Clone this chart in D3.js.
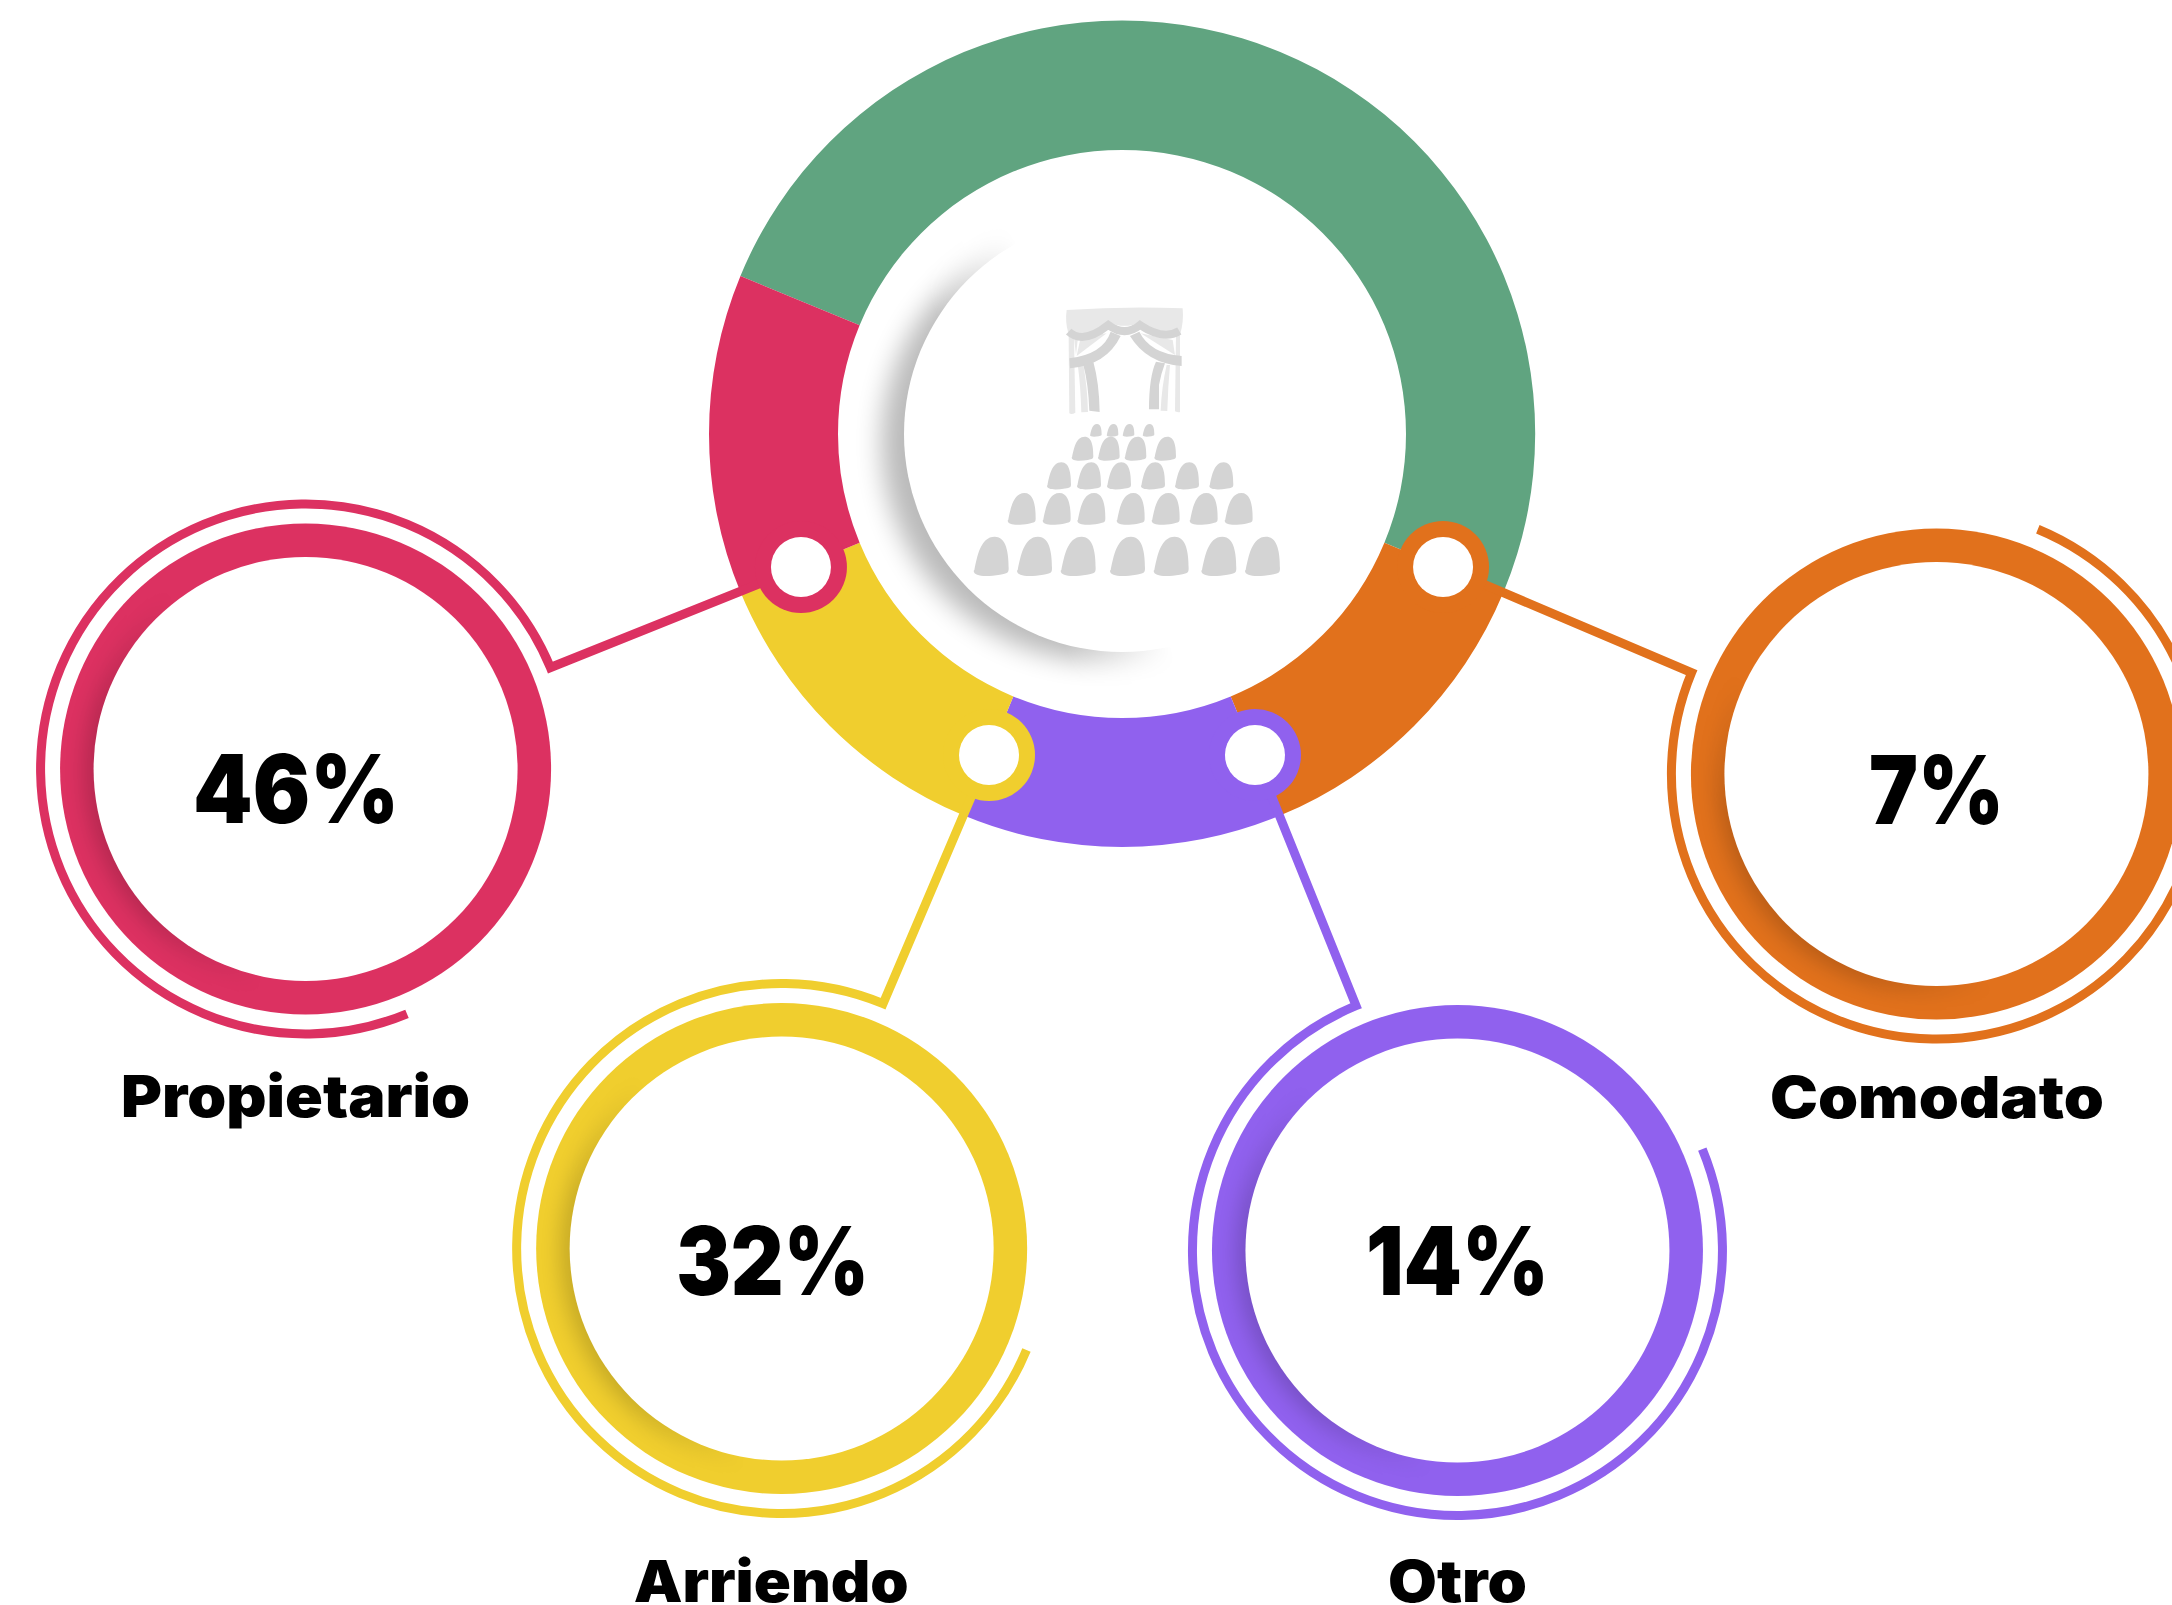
<!DOCTYPE html>
<html><head><meta charset="utf-8">
<style>html,body{margin:0;background:#fff;overflow:hidden}svg{display:block}</style>
<script src="https://cdn.jsdelivr.net/npm/d3@7"></script></head><body>
<script>
// ---- data ----
const categories = ["Propietario", "Arriendo", "Otro", "Comodato"];
const percents = [46, 32, 14, 7];
const ringColors = ["#DC3161", "#F0CE2E", "#9061EE", "#E1711C"];
const wheelSegments = [180, 45, 45, 45, 45];
const wheelColors = ["#60A480", "#E1711C", "#9061EE", "#F0CE2E", "#DC3161"];
const ringAngles = [247.5, 202.5, 157.5, 112.5];
const ringNudges = [[-1, -2.8], [-2.6, -0.9], [-2.3, 1.1], [-1, 2.3]];
const shadeAngles = [257, 255, 252, 231];
const valueOffsets = [[-9.5, 54.5], [-9, 46], [0, 44], [0, 49.6]];
const labelOffsets = [[-10, 348.5], [-10.5, 353], [0, 351], [0.5, 344]];
const valueWidths = [206, 193, 183, 135];
const labelWidths = [349, 275, 139, 334];

const W = 2172, H = 1605, cx = 1122, cy = 434;
const rad = d => d * Math.PI / 180;
const svg = d3.select("body").append("svg").attr("width", W).attr("height", H);
const defs = svg.append("defs");
const blur = (id, s) => defs.append("filter").attr("id", id)
  .attr("x", "-30%").attr("y", "-30%").attr("width", "160%").attr("height", "160%")
  .append("feGaussianBlur").attr("stdDeviation", s);
blur("soft", 13); blur("ringSoft", 10);

// soft crescent shadow: a blurred disc, faded out away from the direction it falls in
function shade(parent, id, x, y, r, deg, dist, sd, op, p0, p1, filter) {
  const [ux, uy] = d3.pointRadial(rad(deg), 1);
  const g = defs.append("linearGradient").attr("id", id + "g").attr("gradientUnits", "userSpaceOnUse")
    .attr("x1", x + ux * p0).attr("y1", y + uy * p0).attr("x2", x + ux * p1).attr("y2", y + uy * p1);
  g.append("stop").attr("offset", 0).attr("stop-color", "#000");
  g.append("stop").attr("offset", 1).attr("stop-color", "#fff");
  defs.append("mask").attr("id", id).attr("maskUnits", "userSpaceOnUse")
    .attr("x", 0).attr("y", 0).attr("width", W).attr("height", H)
    .append("rect").attr("width", W).attr("height", H).attr("fill", `url(#${id}g)`);
  parent.append("g").attr("mask", `url(#${id})`).append("circle")
    .attr("cx", x + ux * dist).attr("cy", y + uy * dist).attr("r", r)
    .attr("fill", "#000").attr("opacity", op).attr("filter", `url(#${filter})`);
}

// ---- central wheel ----
const wheel = svg.append("g").attr("transform", `translate(${cx},${cy})`);
const pie = d3.pie().sort(null).value(d => d).startAngle(rad(-67.5)).endAngle(rad(292.5));
const arc = d3.arc().innerRadius(284).outerRadius(413);
wheel.selectAll("path.seg").data(pie(wheelSegments)).join("path").attr("class", "seg")
  .attr("d", arc).attr("fill", (d, i) => wheelColors[i]);
shade(svg, "wheelShade", cx, cy, 218, 249, 24, 13, .27, 30, 130, "soft");
svg.append("circle").attr("cx", cx).attr("cy", cy).attr("r", 218).attr("fill", "#fff");

// ---- leaders, thin arcs, knobs, rings ----
ringAngles.forEach((deg, i) => {
  const color = ringColors[i], a = rad(deg);
  const [kx, ky] = d3.pointRadial(a, 347.5);
  const [rx, ry] = d3.pointRadial(a, 882.6);
  const ringX = cx + rx + ringNudges[i][0], ringY = cy + ry + ringNudges[i][1];
  const back = deg - 180;                       // thin arc starts facing the wheel
  const p = d3.path();
  p.moveTo(cx + kx, cy + ky);
  const sx = ringX + 265 * Math.sin(rad(back)), sy = ringY - 265 * Math.cos(rad(back));
  p.lineTo(sx, sy);
  p.arc(ringX, ringY, 265, rad(back - 90), rad(back), true);
  svg.append("path").attr("d", p.toString()).attr("fill", "none")
    .attr("stroke", color).attr("stroke-width", 9).attr("stroke-miterlimit", 6);
  svg.append("circle").attr("cx", cx + kx).attr("cy", cy + ky).attr("r", 46).attr("fill", color);
  svg.append("circle").attr("cx", cx + kx).attr("cy", cy + ky).attr("r", 30).attr("fill", "#fff");

  svg.append("circle").attr("cx", ringX).attr("cy", ringY).attr("r", 245.5).attr("fill", color);
  const clipId = "clip" + i;
  defs.append("clipPath").attr("id", clipId).append("circle")
    .attr("cx", ringX).attr("cy", ringY).attr("r", 245.5);
  const clipped = svg.append("g").attr("clip-path", `url(#${clipId})`);
  shade(clipped, "ringShade" + i, ringX, ringY, 212, shadeAngles[i], 10, 10, .17, 90, 190, "ringSoft");
  svg.append("circle").attr("cx", ringX).attr("cy", ringY).attr("r", 212).attr("fill", "#fff");

  const txt = (s, off, width, size) => svg.append("text")
    .attr("x", ringX + off[0]).attr("y", ringY + off[1]).attr("text-anchor", "middle")
    .attr("font-family", "Inter, 'Open Sans', sans-serif").attr("font-weight", 900)
    .attr("font-size", size).attr("fill", "#000")
    .attr("textLength", width).attr("lengthAdjust", "spacingAndGlyphs").text(s);
  txt(percents[i] + "%", valueOffsets[i], valueWidths[i], 95);
  txt(categories[i], labelOffsets[i], labelWidths[i], 58);
});

// ---- theatre icon ----
const icon = svg.append("g").attr("transform", "translate(950,250) scale(0.3333)");
const paleShapes = [
  "M350,180Q525,168 698,175Q702,215 690,255Q640,262 570,215Q525,240 475,215Q400,275 355,250Q345,215 350,180Z",
  "M356,258L372,258L376,488Q365,495 358,490Z",
  "M384,350L400,345Q412,410 414,486L394,487Q392,410 384,350Z",
  "M372,262L384,262L378,315Z M392,262L470,250L380,318Z",
  "M690,255L678,260L675,484Q685,488 690,486Z",
  "M660,345L650,345Q635,410 632,482L652,483Q654,410 660,345Z",
  "M572,250L668,270L675,315Z"
];
const darkShapes = [
  "M482,245Q460,312 358,325L360,355Q470,345 512,258Z",
  "M430,335Q448,400 449,486L418,482Q415,400 400,345Z",
  "M568,245Q600,310 695,318L695,348Q590,340 540,258Z",
  "M618,335Q597,380 597,478L627,478L627,405Q632,375 645,340Z"
];
icon.selectAll("path.pale").data(paleShapes).join("path").attr("d", d => d).attr("fill", "#E8E8E8");
icon.selectAll("path.dark").data(darkShapes).join("path").attr("d", d => d).attr("fill", "#D4D4D4");
icon.append("path").attr("d", "M356,245Q400,285 475,225Q525,262 570,225Q640,272 688,243")
  .attr("fill", "none").attr("stroke", "#D4D4D4").attr("stroke-width", 24);
const seatRows = [
  [522, 560, [420, 470, 518, 578], 35],
  [560, 632, [365, 444, 524, 613], 65],
  [637, 718, [291, 381, 471, 573, 675, 778], 72],
  [729, 824, [173, 278, 382, 500, 605, 719, 824], 84],
  [860, 978, [71, 201, 332, 480, 611, 754, 885], 105]
];
const seat = "M.02,.85C.1,.5 .2,0 .6,0C.95,0 1,.45 1,.8C1,.93 .97,.93 .75,.97C.4,1.02 0,1.03 0,.87Z";
seatRows.forEach(([y0, y1, xs, w]) => {
  icon.append("g").selectAll("path").data(xs).join("path")
    .attr("d", seat).attr("fill", "#D4D4D4")
    .attr("transform", x => `translate(${x},${y0}) scale(${w},${y1 - y0})`);
});
</script></body></html>
